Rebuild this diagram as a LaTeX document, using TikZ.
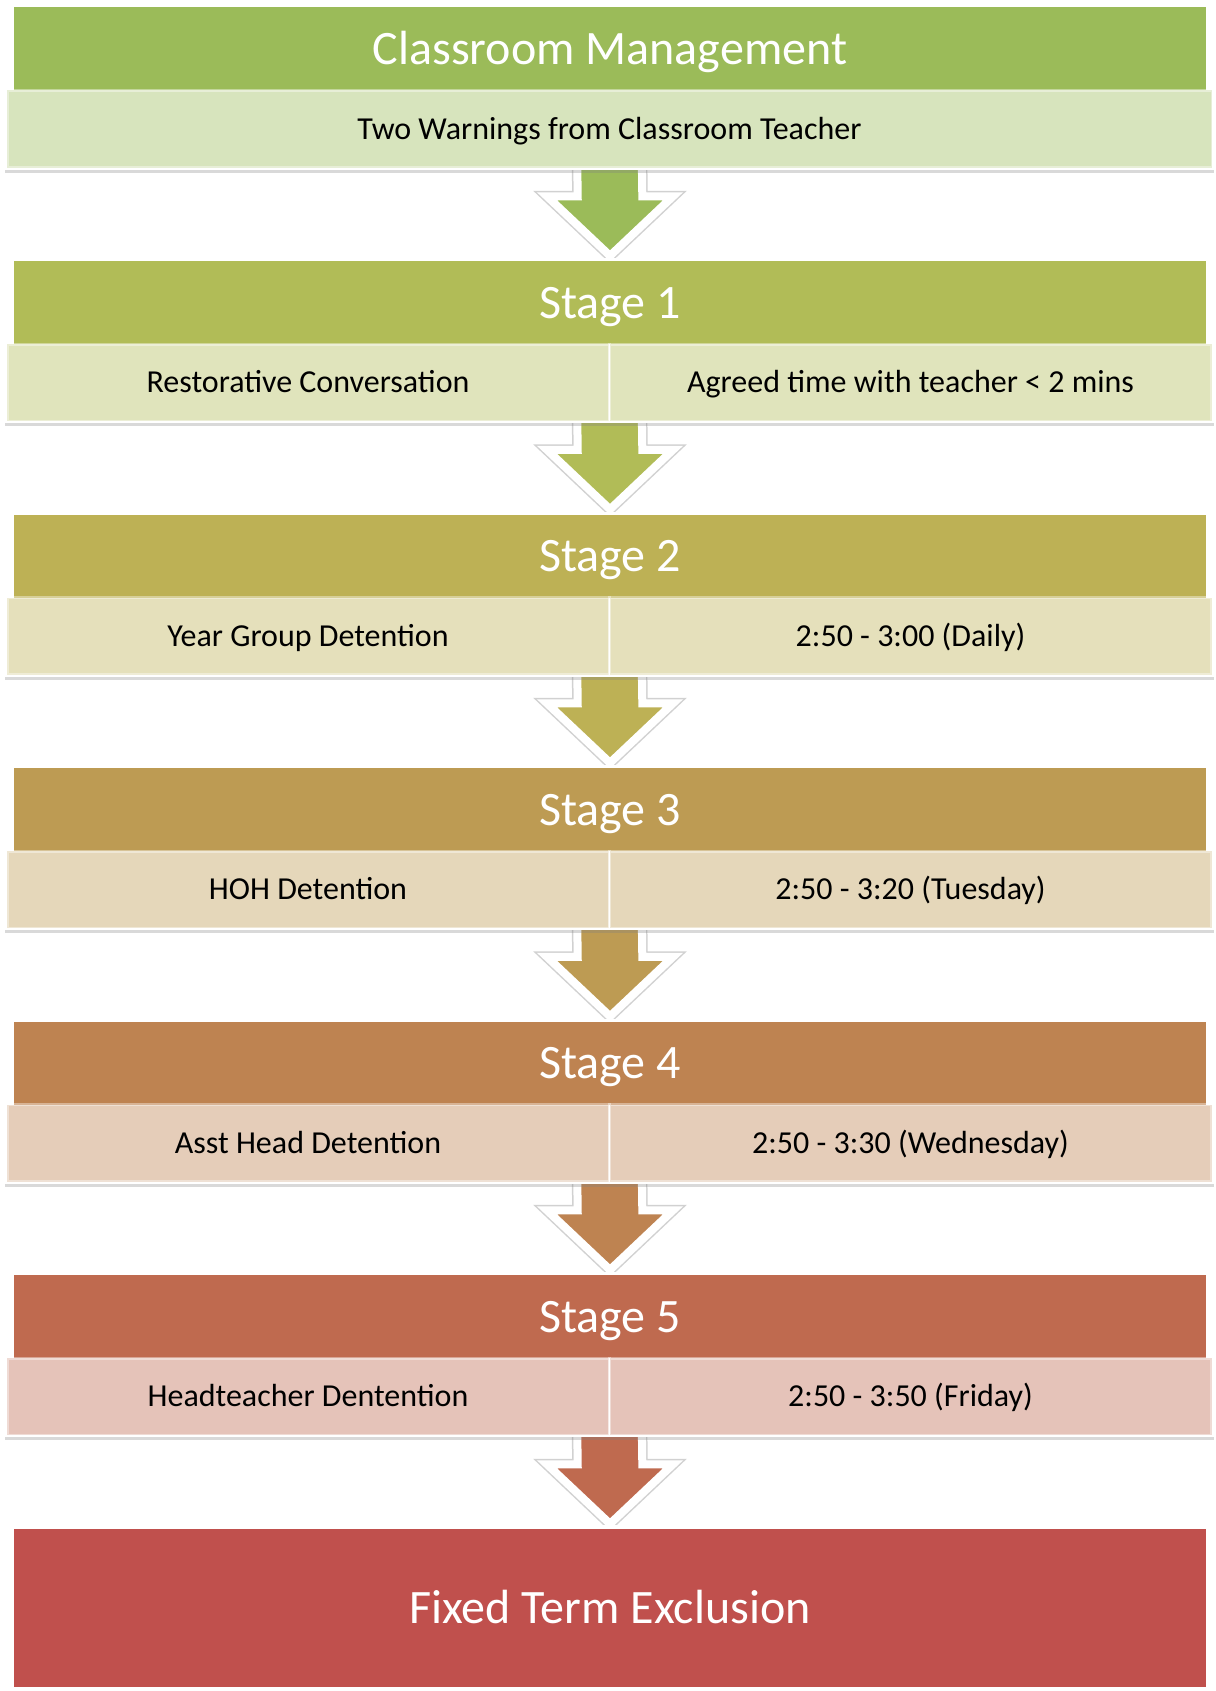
\documentclass[tikz,border=0pt]{standalone}
\usepackage{fontspec}
\setmainfont{Carlito}
\usetikzlibrary{positioning,calc,shadows}
\pgfdeclarelayer{background}
\pgfsetlayers{background,main}
\definecolor{StageGreen}{RGB}{155,187,89}
\definecolor{StageOne}{RGB}{177,188,87}
\definecolor{StageTwo}{RGB}{189,177,85}
\definecolor{StageThree}{RGB}{189,155,83}
\definecolor{StageFour}{RGB}{190,131,81}
\definecolor{StageFive}{RGB}{191,106,79}
\definecolor{ExclusionRed}{RGB}{192,80,77}

% block arrow from the bottom of one block to the top of the next header
\newcommand{\arrowpath}[2]{%
    ($(#1.south)+(-32.3,-10)$) -- ($(#1.south)+(32.3,-10)$) -- ($(#2.north)+(32.3,-64.5)$)
    -- ($(#2.north)+(63,-64.5)$) -- ($(#2.north)+(0,-5)$) -- ($(#2.north)+(-63,-64.5)$)
    -- ($(#2.north)+(-32.3,-64.5)$) -- cycle}
\newcommand{\stagearrow}[3]{%
  \draw[arrowhalo] \arrowpath{#1}{#2};
  \draw[stagearrow, fill=#3] \arrowpath{#1}{#2};}

\begin{document}
\begin{tikzpicture}[x=1pt, y=-1pt, every node/.style={inner sep=0pt, align=center}]
\tikzset{
  blockback/.style={fill=white, minimum width=1209, minimum height=165,
    drop shadow={shadow xshift=0pt, shadow yshift=-3pt, opacity=.3}},
  header/.style={text=white, minimum width=1192, minimum height=83,
    text height=31pt, text depth=0pt, font=\fontsize{48}{54}\selectfont},
  band/.style={draw=white, draw opacity=.4, line width=3pt, minimum width=1205, minimum height=77,
    text height=20.6pt, text depth=0pt, font=\fontsize{32}{38}\selectfont, text=black},
  halfband/.style={band, minimum width=602},
  stagearrow/.style={draw=white, line width=8pt},
  arrowhalo/.style={draw=black, draw opacity=.18, line width=11pt, xshift=1pt, yshift=-1.5pt}
}
  \useasboundingbox (0,0) rectangle (1215,1691);
  % classroom management
  \node[blockback] (blk0) at (609.5,87) {};
  \node[header, fill=StageGreen] (hdr0) at (610,49) {Classroom Management};
  \node[band, fill=StageGreen!40] (sub0) at (609.5,129) {Two Warnings from Classroom Teacher};
  % stage 1
  \node[blockback] (blk1) at (609.5,340.5) {};
  \node[header, fill=StageOne] (hdr1) at (610,302.5) {Stage 1};
  \node[halfband, fill=StageOne!40] (sub1a) at (308,382.5) {Restorative Conversation};
  \node[halfband, fill=StageOne!40] (sub1b) at (910.5,382.5) {Agreed time with teacher < 2 mins};
  % stage 2
  \node[blockback] (blk2) at (609.5,594) {};
  \node[header, fill=StageTwo] (hdr2) at (610,556) {Stage 2};
  \node[halfband, fill=StageTwo!40] (sub2a) at (308,636) {Year Group Detention};
  \node[halfband, fill=StageTwo!40] (sub2b) at (910.5,636) {2:50 - 3:00 (Daily)};
  % stage 3
  \node[blockback] (blk3) at (609.5,847.5) {};
  \node[header, fill=StageThree] (hdr3) at (610,809.5) {Stage 3};
  \node[halfband, fill=StageThree!40] (sub3a) at (308,889.5) {HOH Detention};
  \node[halfband, fill=StageThree!40] (sub3b) at (910.5,889.5) {2:50 - 3:20 (Tuesday)};
  % stage 4
  \node[blockback] (blk4) at (609.5,1101) {};
  \node[header, fill=StageFour] (hdr4) at (610,1063) {Stage 4};
  \node[halfband, fill=StageFour!40] (sub4a) at (308,1143) {Asst Head Detention};
  \node[halfband, fill=StageFour!40] (sub4b) at (910.5,1143) {2:50 - 3:30 (Wednesday)};
  % stage 5
  \node[blockback] (blk5) at (609.5,1354.5) {};
  \node[header, fill=StageFive] (hdr5) at (610,1316.5) {Stage 5};
  \node[halfband, fill=StageFive!40] (sub5a) at (308,1396.5) {Headteacher Dentention};
  \node[halfband, fill=StageFive!40] (sub5b) at (910.5,1396.5) {2:50 - 3:50 (Friday)};
  % exclusion
  \node[blockback, minimum height=166] (blk6) at (609.5,1608) {};
  \node[header, fill=ExclusionRed, minimum height=158] (hdr6) at (610,1608) {Fixed Term Exclusion};
  % arrows, behind the blocks
  \begin{pgfonlayer}{background}
  \stagearrow{blk0}{hdr1}{StageGreen}
  \stagearrow{blk1}{hdr2}{StageOne}
  \stagearrow{blk2}{hdr3}{StageTwo}
  \stagearrow{blk3}{hdr4}{StageThree}
  \stagearrow{blk4}{hdr5}{StageFour}
  \stagearrow{blk5}{hdr6}{StageFive}
  \end{pgfonlayer}
\end{tikzpicture}
\end{document}
